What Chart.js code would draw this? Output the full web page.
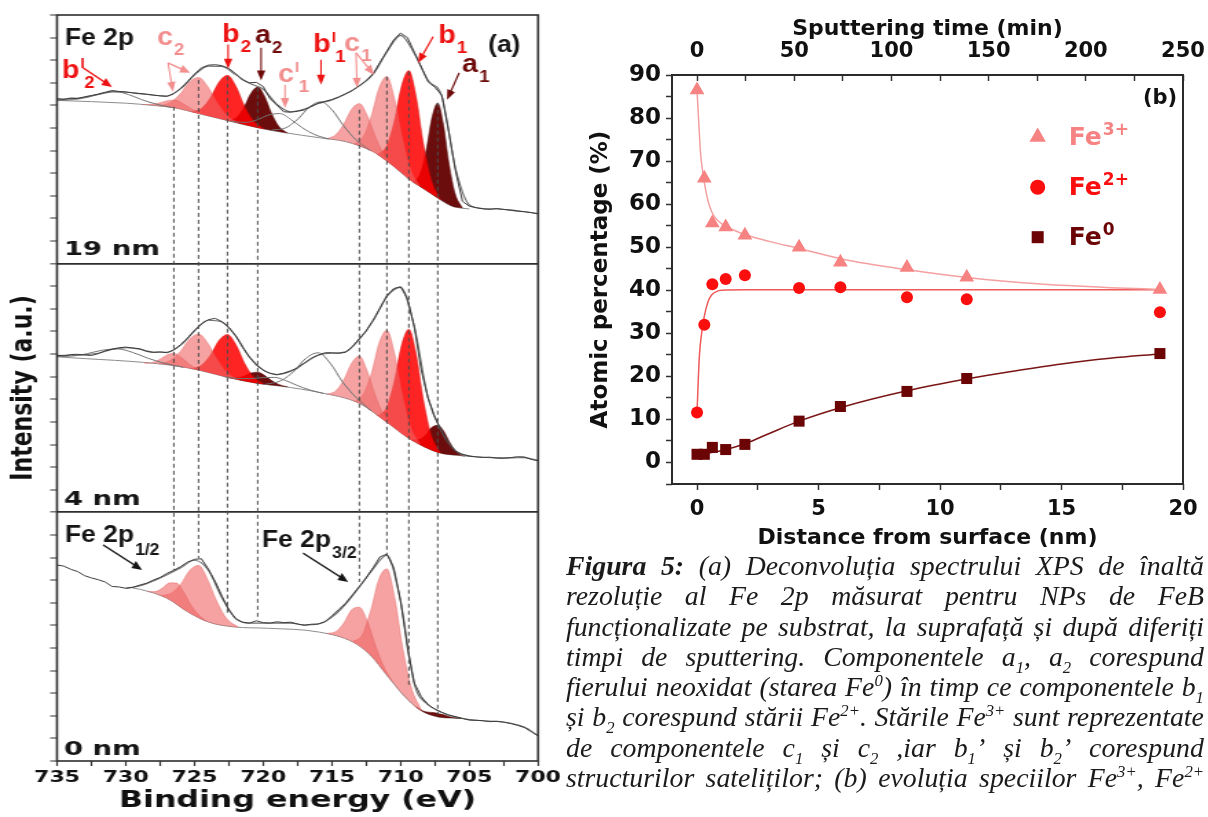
<!DOCTYPE html>
<html><head><meta charset="utf-8">
<title>Fe 2p XPS</title>
<script src="https://cdn.jsdelivr.net/npm/chart.js@4.4.1/dist/chart.umd.min.js"></script>
<style>
html,body{margin:0;padding:0;background:#fff;}
body{width:1208px;height:817px;position:relative;overflow:hidden;}
#left{position:absolute;left:0;top:0;transform:scaleX(1.375);transform-origin:0 0;}
#right{position:absolute;left:555px;top:0;}
#caption{position:absolute;left:566px;top:551px;width:638px;font-family:"Liberation Serif","Times New Roman",serif;font-style:italic;font-size:27.8px;line-height:30.3px;color:#1b1b1b;}
#caption .ln{display:flex;justify-content:space-between;white-space:nowrap;height:30.3px;}
#caption b{font-weight:bold;}
#caption sub,#caption sup{font-size:60%;line-height:0;}
</style></head><body>
<canvas id="left" width="412" height="817"></canvas>
<canvas id="right" width="653" height="560"></canvas>
<div id="caption">
<div class="ln"><span><b>Figura</b></span><span><b>5:</b></span><span>(a)</span><span>Deconvoluția</span><span>spectrului</span><span>XPS</span><span>de</span><span>înaltă</span></div>
<div class="ln"><span>rezoluție</span><span>al</span><span>Fe</span><span>2p</span><span>măsurat</span><span>pentru</span><span>NPs</span><span>de</span><span>FeB</span></div>
<div class="ln"><span>funcționalizate</span><span>pe</span><span>substrat,</span><span>la</span><span>suprafață</span><span>și</span><span>după</span><span>diferiți</span></div>
<div class="ln"><span>timpi</span><span>de</span><span>sputtering.</span><span>Componentele</span><span>a<sub>1</sub>,</span><span>a<sub>2</sub></span><span>corespund</span></div>
<div class="ln"><span>fierului</span><span>neoxidat</span><span>(starea</span><span>Fe<sup>0</sup>)</span><span>în</span><span>timp</span><span>ce</span><span>componentele</span><span>b<sub>1</sub></span></div>
<div class="ln"><span>și</span><span>b<sub>2</sub></span><span>corespund</span><span>stării</span><span>Fe<sup>2+</sup>.</span><span>Stările</span><span>Fe<sup>3+</sup></span><span>sunt</span><span>reprezentate</span></div>
<div class="ln"><span>de</span><span>componentele</span><span>c<sub>1</sub></span><span>și</span><span>c<sub>2</sub></span><span>,iar</span><span>b<sub>1</sub>’</span><span>și</span><span>b<sub>2</sub>’</span><span>corespund</span></div>
<div class="ln"><span>structurilor</span><span>sateliților;</span><span>(b)</span><span>evoluția</span><span>speciilor</span><span>Fe<sup>3+</sup>,</span><span>Fe<sup>2+</sup></span></div>
</div>
<script>
// ================= DATA : panel (a) XPS Fe 2p =================
const energyTicks = [735,730,725,720,715,710,705,700];
const rawEnergy = [735,734.5,734,733.5,733,732.5,732,731.5,731,730.5,
 730,729.5,729,728.5,728,727.5,727,726.5,726,725.5,
 725,724.5,724,723.5,723,722.5,722,721.5,721,720.5,
 720,719.5,719,718.5,718,717.5,717,716.5,716,715.5,
 715,714.5,714,713.5,713,712.5,712,711.5,711,710.5,
 710,709.5,709,708.5,708,707.5,707,706.5,706,705.5,
 705,704.5,704,703.5,703,702.5,702,701.5,701,700.5,
 700];
// measured spectra (intensity, a.u., per panel)
const raw19 = [7.30,7.26,7.33,7.30,7.38,7.44,7.50,7.58,7.66,7.62,
 7.60,7.56,7.53,7.50,7.46,7.42,7.40,7.52,7.75,8.05,
 8.38,8.66,8.78,8.80,8.76,8.64,8.40,8.12,8.00,8.02,
 7.84,7.30,7.02,6.72,6.70,6.74,6.80,6.95,7.10,7.18,
 7.26,7.38,7.52,7.66,7.88,8.10,8.40,8.90,9.40,9.90,
 10.20,10.00,9.35,8.70,8.05,7.80,7.45,5.85,4.10,2.76,
 2.54,2.48,2.42,2.40,2.44,2.40,2.36,2.32,2.30,2.26,
 2.20];
const raw4 = [6.95,6.92,6.98,6.99,6.96,6.94,7.02,7.14,7.22,7.28,
 7.31,7.27,7.24,7.12,7.07,7.10,7.06,7.18,7.42,7.70,
 8.05,8.33,8.52,8.58,8.44,8.18,7.82,7.30,6.86,6.52,
 6.28,6.15,6.08,6.16,6.26,6.38,6.60,6.82,6.96,7.06,
 7.06,7.03,7.08,7.34,7.68,8.02,8.50,9.02,9.58,9.90,
 9.98,9.45,8.20,6.30,5.05,4.20,3.58,3.05,2.70,2.56,
 2.48,2.45,2.43,2.44,2.40,2.39,2.42,2.46,2.45,2.34,
 2.28];
const raw0 = [8.67,8.62,8.48,8.38,8.20,8.10,8.02,7.92,7.72,7.70,
 7.64,7.68,7.78,7.86,8.00,8.12,8.30,8.44,8.60,8.80,
 8.92,8.95,8.50,7.95,7.30,6.68,6.30,6.14,6.10,6.20,
 6.12,6.10,6.16,6.12,6.14,6.06,6.00,6.05,6.06,6.15,
 6.42,6.70,6.98,7.35,7.72,8.10,8.55,9.03,9.15,8.55,
 7.10,5.00,3.45,2.85,2.48,2.30,2.15,2.02,1.96,1.88,
 1.81,1.80,1.78,1.74,1.76,1.72,1.66,1.58,1.48,1.30,
 1.10];
// fitted envelopes
const fitEnergy = [735,734,733,732,731,730,729,728,727,726,725,724,723,722,721,720,719,718,717,716,715,714,713,712,711,710,709,708,707,706,705,704,703,702,701,700];
const fit19 = [7.28,7.30,7.36,7.48,7.60,7.58,7.52,7.45,7.42,7.74,8.34,8.74,8.72,8.36,7.98,7.72,7.05,6.72,6.84,7.08,7.24,7.50,7.86,8.38,9.36,10.10,9.30,8.10,7.40,4.20,2.60,2.44,2.42,2.38,2.30,2.22];
const fit4 = [6.93,6.95,6.97,7.04,7.20,7.28,7.22,7.09,7.08,7.40,8.02,8.50,8.42,7.80,6.88,6.30,6.10,6.24,6.60,6.95,7.04,7.10,7.66,8.48,9.55,9.95,8.20,5.05,3.55,2.72,2.50,2.44,2.41,2.41,2.42,2.30];
const fit0 = [null,null,null,null,null,7.64,7.74,7.96,8.24,8.55,8.88,8.45,7.22,6.30,6.10,6.10,6.10,6.10,6.02,6.06,6.36,6.94,7.70,8.50,9.10,7.05,3.40,2.50,2.15,1.96,1.83,1.78,1.75,1.67,1.50,1.12];
// Shirley backgrounds [eV, a.u.]
const bg19 = [[735,7.22],[730,7.10],[728,7.00],[726.5,6.90],[724.7,6.64],[722.6,6.33],[720.4,6.01],[718.5,5.80],[715.9,5.57],[714,5.40],[713,5.21],[712,4.95],[711,4.54],[710,4.05],[709.4,3.74],[708.3,3.30],[707.3,2.90],[706.3,2.55],[705.5,2.45],[705,2.42]];
const bg4 = [[735,6.88],[726.6,6.50],[724.6,6.28],[722.6,5.97],[720.4,5.70],[718.7,5.58],[715.9,5.30],[713,4.82],[711,3.98],[709.4,3.27],[707.3,2.65],[705.9,2.52],[705,2.48]];
const bg0 = [[729.5,7.65],[729,7.60],[727,7.20],[725.5,6.60],[724,6.15],[722.1,5.93],[719.6,5.87],[715.9,5.70],[713.5,5.27],[712.2,4.69],[711,3.80],[709.8,2.92],[708.6,2.26],[707.3,1.95],[706.4,1.90],[705.5,1.88]];
// fitted components, 19 nm
const c2a_19 = [[728.8,7.04],[728.1,7.05],[727.5,7.12],[726.96,7.21],[726.4,7.24],[725.84,7.08],[725.3,6.88],[724.7,6.69],[724.0,6.54]];
const c2b_19 = [[727.58,6.97],[726.74,7.14],[726.02,7.52],[725.37,8.03],[724.7,8.24],[724.03,7.83],[723.38,7.14],[722.66,6.56],[721.82,6.22]];
const b2_19 = [[725.24,6.72],[724.47,6.88],[723.81,7.37],[723.22,8.03],[722.6,8.33],[721.98,7.85],[721.39,7.01],[720.73,6.33],[719.96,5.96]];
const a2_19 = [[722.56,6.32],[721.93,6.47],[721.39,6.92],[720.9,7.53],[720.4,7.81],[719.9,7.41],[719.41,6.68],[718.87,6.08],[718.24,5.78]];
const b2sat_19 = [[735,7.22],[733.8,7.26],[732.7,7.37],[731.8,7.53],[730.8,7.62],[729.8,7.48],[728.9,7.27],[727.8,7.06],[726.6,6.90]];
const c1sat_19 = [[722.4,6.30],[721.35,6.25],[720.45,6.36],[719.64,6.57],[718.8,6.64],[717.96,6.37],[717.15,6.01],[716.25,5.71],[715.2,5.51]];
const b1sat_19 = [[719.4,5.91],[718.35,6.01],[717.45,6.41],[716.64,6.93],[715.8,7.16],[714.96,6.78],[714.15,6.10],[713.25,5.48],[712.2,5.00]];
const c1a_19 = [[715.4,5.52],[714.7,5.71],[714.1,6.21],[713.56,6.83],[713.0,7.08],[712.44,6.57],[711.9,5.71],[711.3,4.91],[710.6,4.35]];
const c1b_19 = [[713.4,5.29],[712.7,5.63],[712.1,6.59],[711.56,7.78],[711.0,8.28],[710.44,7.28],[709.9,5.60],[709.3,4.20],[708.6,3.42]];
const b1_19 = [[711.68,4.82],[711.02,5.20],[710.45,6.33],[709.93,7.86],[709.4,8.54],[708.87,7.39],[708.36,5.38],[707.79,3.75],[707.12,2.84]];
const a1_19 = [[709.1,3.62],[708.58,3.98],[708.13,5.04],[707.72,6.45],[707.3,7.10],[706.88,6.13],[706.48,4.42],[706.03,3.09],[705.5,2.45]];
// fitted components, 4 nm
const b2sat_4 = [[735,6.90],[734,6.91],[732.8,7.02],[731.72,7.17],[730.6,7.23],[729.48,7.07],[728.4,6.82],[727.2,6.60],[725.8,6.41]];
const c2a_4 = [[728.66,6.59],[728.03,6.63],[727.49,6.78],[727.0,6.96],[726.5,7.04],[726.0,6.87],[725.51,6.62],[724.97,6.39],[724.34,6.24]];
const c2b_4 = [[727.58,6.55],[726.74,6.73],[726.02,7.12],[725.37,7.65],[724.7,7.89],[724.03,7.48],[723.38,6.78],[722.66,6.20],[721.82,5.87]];
const b2_4 = [[725.24,6.35],[724.47,6.52],[723.81,6.98],[723.22,7.60],[722.6,7.87],[721.98,7.42],[721.39,6.64],[720.73,6.00],[719.96,5.67]];
const a2_4 = [[722.56,5.96],[721.93,5.95],[721.39,6.03],[720.9,6.16],[720.4,6.20],[719.9,6.06],[719.41,5.84],[718.87,5.66],[718.24,5.55]];
const c1sat_4 = [[722.8,6.00],[721.75,5.92],[720.85,5.92],[720.04,5.96],[719.2,5.97],[718.36,5.83],[717.55,5.62],[716.65,5.42],[715.6,5.26]];
const b1sat_4 = [[719.84,5.66],[718.72,5.82],[717.76,6.24],[716.9,6.81],[716.0,7.06],[715.1,6.58],[714.24,5.78],[713.28,5.11],[712.16,4.49]];
const c1a_4 = [[715.4,5.22],[714.7,5.38],[714.1,5.90],[713.56,6.60],[713.0,6.92],[712.44,6.27],[711.9,5.26],[711.3,4.39],[710.6,3.80]];
const c1b_4 = [[713.4,4.88],[712.7,5.24],[712.1,6.19],[711.56,7.49],[711.0,8.05],[710.44,7.01],[709.9,5.24],[709.3,3.79],[708.6,3.03]];
const b1_4 = [[711.68,4.26],[711.02,4.64],[710.45,5.82],[709.93,7.39],[709.4,8.10],[708.87,7.00],[708.36,5.04],[707.79,3.45],[707.12,2.64]];
const a1_4 = [[709.22,3.21],[708.66,3.22],[708.18,3.42],[707.75,3.75],[707.3,3.85],[706.85,3.58],[706.42,3.09],[705.94,2.68],[705.38,2.47]];
// fitted components, 0 nm
const c2a_0 = [[728.46,7.49],[727.83,7.50],[727.29,7.67],[726.8,7.88],[726.3,7.87],[725.8,7.48],[725.31,6.95],[724.77,6.51],[724.14,6.19]];
const c2b_0 = [[727.58,7.32],[726.74,7.41],[726.02,7.80],[725.37,8.41],[724.7,8.66],[724.03,8.01],[723.38,7.07],[722.66,6.30],[721.82,5.93]];
const c1a_0 = [[715.4,5.64],[714.7,5.73],[714.1,6.13],[713.56,6.69],[713.0,6.80],[712.44,6.21],[711.9,5.22],[711.3,4.26],[710.6,3.51]];
const c1b_0 = [[713.52,5.28],[712.79,5.58],[712.16,6.68],[711.59,8.02],[711.0,8.50],[710.41,7.15],[709.84,4.97],[709.21,3.23],[708.48,2.24]];
const a1_0 = [[708.88,2.41],[708.39,2.22],[707.97,2.16],[707.59,2.14],[707.2,2.09],[706.81,2.04],[706.43,1.96],[706.01,1.91],[705.52,1.88]];
// guide lines (eV) and their extent on the stacked intensity axis
const guideEnergy = [726.5,724.7,722.6,720.4,713.0,711.0,709.4,707.3];
const guideTop = [28.94,30.13,30.27,29.78,28.81,30.27,30.49,29.12];
const guideBottom = [8.45,8.98,6.46,6.24,7.92,9.12,3.27,2.04];

// ================= DATA : panel (b) =================
const distanceNm = [0, 0.3, 0.63, 1.18, 1.97, 4.2, 5.9, 8.64, 11.1, 19.05];
const fe3Pct = [86.5, 66.0, 55.6, 54.7, 52.8, 50.0, 46.5, 45.3, 43.0, 40.2];
const fe2Pct = [11.6, 32.0, 41.4, 42.6, 43.5, 40.5, 40.7, 38.4, 37.9, 34.9];
const fe0Pct = [1.9, 1.9, 3.5, 3.0, 4.2, 9.6, 13.0, 16.5, 19.5, 25.3];
const fe3Fit = [[0,86.5],[0.08,78],[0.15,71.5],[0.25,67],[0.35,63.5],[0.5,59.8],[0.7,57.2],[1.0,55.5],[1.5,54.0],[2.0,52.9],[3.0,51.3],[4.2,49.7],[6.0,47.2],[8.6,44.8],[11.2,42.9],[14.0,41.5],[17.0,40.6],[19.05,40.2]];
const fe2Fit = [[0,11.6],[0.05,19],[0.1,25],[0.2,30.5],[0.3,34],[0.45,37.3],[0.6,38.9],[0.8,39.7],[1.0,40.0],[2.0,40.1],[5.0,40.1],[10.0,40.1],[15.0,40.1],[19.05,40.1]];
const fe0Fit = [[0,1.8],[0.6,2.3],[1.2,3.0],[2.0,4.4],[3.0,6.8],[4.2,9.6],[6.0,12.9],[8.6,16.6],[11.2,19.5],[13.0,21.2],[15.0,22.9],[17.0,24.2],[19.05,25.2]];
const distanceTicks = [0,5,10,15,20];
const timeTicks = [0,50,100,150,200,250];
const percentTicks = [0,10,20,30,40,50,60,70,80,90];

// ================= STYLE =================
Chart.defaults.animation = false;
Chart.defaults.font.family = 'DejaVu Sans';
Chart.defaults.color = '#111';
const S = 1.375; // horizontal stretch of panel (a)
const PINK = '#f28e8e', RED = '#ee1111', DARK = '#6e0a0a', INK = '#151515';
const FILL = {c:'rgba(240,100,100,0.60)', b:'rgba(255,0,0,0.86)', a:'rgba(100,0,0,0.95)'};
const EDGE = {c:'rgba(225,90,90,0.7)', b:'rgba(210,0,0,0.8)', a:'rgba(80,0,0,0.9)'};
const BOLD = (size, fam) => ({family: fam || 'DejaVu Sans', weight: 'bold', size});

// ================= PANEL (a) =================
const panels = [
  {off:22, raw:raw19, fit:fit19, bg:bg19, sats:[b2sat_19,c1sat_19,b1sat_19],
   comps:[[c2a_19,'c'],[c2b_19,'c'],[b2_19,'b'],[a2_19,'a'],[c1a_19,'c'],[c1b_19,'c'],[b1_19,'b'],[a1_19,'a']]},
  {off:11, raw:raw4, fit:fit4, bg:bg4, sats:[b2sat_4,c1sat_4,b1sat_4],
   comps:[[c2a_4,'c'],[c2b_4,'c'],[b2_4,'b'],[a2_4,'a'],[c1a_4,'c'],[c1b_4,'c'],[b1_4,'b'],[a1_4,'a']]},
  {off:0, raw:raw0, fit:fit0, bg:bg0, sats:[],
   comps:[[c2a_0,'c'],[c2b_0,'c'],[c1a_0,'c'],[c1b_0,'c'],[a1_0,'a']]}
];
const xy = (pairs, off) => pairs.map(p => ({x:p[0], y:p[1] + off}));
const leftSets = [];
panels.forEach(P => {
  leftSets.push({data: rawEnergy.map((e,i) => ({x:e, y:P.raw[i] + P.off})), borderColor:'#3a3a3a', borderWidth:1, tension:0, order:0});
  leftSets.push({data: fitEnergy.map((e,i) => P.fit[i] == null ? null : {x:e, y:P.fit[i] + P.off}).filter(Boolean), borderColor:'#6e6e6e', borderWidth:1.1, cubicInterpolationMode:'monotone', order:1});
  const bgIndex = leftSets.length;
  leftSets.push({data: xy(P.bg, P.off), borderColor:'#8c8c8c', borderWidth:1, cubicInterpolationMode:'monotone', order:9});
  P.sats.forEach(s => leftSets.push({data: xy(s, P.off), borderColor:'#727272', borderWidth:1, cubicInterpolationMode:'monotone', order:3}));
  P.comps.forEach(([arr,k]) => leftSets.push({data: xy(arr, P.off), borderColor: EDGE[k], borderWidth:0.6, backgroundColor: FILL[k], fill: bgIndex, cubicInterpolationMode:'monotone', order:5}));
});
guideEnergy.forEach((e,i) => leftSets.push({data:[{x:e, y:guideTop[i]},{x:e, y:guideBottom[i]}], borderColor:'#4a4a4a', borderWidth:1, borderDash:[4,3], order:2}));

const tagLabels = [
  {t:'Fe 2p', e:734.42, y:31.68, color:INK, size:24},
  {t:'(a)', e:703.63, y:31.37, color:INK, size:24},
  {t:'c', sub:'2', e:727.72, y:31.68, color:PINK},
  {t:'b', sub:'2', e:722.99, y:31.81, color:RED},
  {t:'a', sub:'2', e:720.59, y:31.77, color:DARK},
  {t:'b', sup:'I', sub:'2', e:734.64, y:30.22, color:RED},
  {t:'c', sup:'I', sub:'1', e:718.92, y:30.04, color:PINK},
  {t:'b', sup:'I', sub:'1', e:716.37, y:31.37, color:RED},
  {t:'c', sub:'1', e:714.11, y:31.42, color:PINK},
  {t:'b', sub:'1', e:707.27, y:31.77, color:RED},
  {t:'a', sub:'1', e:705.52, y:30.49, color:DARK},
  {t:'Fe 2p', sub:'1/2', e:734.42, y:9.69, color:INK, size:24, subDy:13},
  {t:'Fe 2p', sub:'3/2', e:720.08, y:9.47, color:INK, size:24, subDy:11}
];
const depthLabels = [{t:'19 nm', e:734.5, y:22.39},{t:'4 nm', e:734.5, y:11.33},{t:'0 nm', e:734.5, y:0.27}];
const arrowMarks = [
  {f:[733.1,30.66], t:[731.0,29.82], c:RED},
  {f:[726.92,30.88], t:[726.56,29.6], c:PINK},
  {f:[726.92,30.88], t:[725.32,30.44], c:PINK},
  {f:[722.55,31.70], t:[722.55,30.62], c:RED},
  {f:[720.15,31.55], t:[720.15,30.10], c:DARK},
  {f:[718.41,29.91], t:[718.41,28.89], c:PINK},
  {f:[715.79,31.02], t:[715.79,29.91], c:RED},
  {f:[713.24,31.33], t:[713.17,29.78], c:PINK},
  {f:[713.24,31.33], t:[711.93,30.35], c:PINK},
  {f:[707.63,32.04], t:[708.73,30.88], c:RED},
  {f:[705.74,30.44], t:[706.62,29.25], c:DARK},
  {f:[731.65,9.56], t:[728.81,8.45], c:INK},
  {f:[717.1,9.2], t:[713.82,7.92], c:INK}
];

function drawArrow(ctx, x1, y1, x2, y2, color) {
  const ang = Math.atan2(y2 - y1, x2 - x1), L = 10, W = 4.2;
  ctx.strokeStyle = color; ctx.fillStyle = color; ctx.lineWidth = 1.5;
  ctx.beginPath(); ctx.moveTo(x1, y1); ctx.lineTo(x2 - Math.cos(ang) * L * 0.7, y2 - Math.sin(ang) * L * 0.7); ctx.stroke();
  ctx.beginPath(); ctx.moveTo(x2, y2);
  ctx.lineTo(x2 - L * Math.cos(ang) + W * Math.sin(ang), y2 - L * Math.sin(ang) - W * Math.cos(ang));
  ctx.lineTo(x2 - L * Math.cos(ang) - W * Math.sin(ang), y2 - L * Math.sin(ang) + W * Math.cos(ang));
  ctx.closePath(); ctx.fill();
}
function drawTag(ctx, L, x, y, sx, fam, size) {
  ctx.save();
  ctx.translate(x, y); ctx.scale(sx, 1);
  ctx.fillStyle = L.color || INK; ctx.textAlign = 'left'; ctx.textBaseline = 'alphabetic';
  ctx.font = 'bold ' + size + 'px ' + fam;
  ctx.fillText(L.t, 0, 0);
  const w = ctx.measureText(L.t).width;
  let subX = w + 1;
  if (L.sup) {
    ctx.font = 'bold ' + Math.round(size * 0.55) + 'px ' + fam;
    ctx.fillText(L.sup, w + 1, -size * 0.38);
    subX = w + 2 + ctx.measureText(L.sup).width * 0.6;
  }
  if (L.sub) {
    ctx.font = 'bold ' + Math.round(size * 0.65) + 'px ' + fam;
    ctx.fillText(L.sub, subX, L.subDy != null ? L.subDy : size * 0.4);
  }
  ctx.restore();
}
const leftDeco = {
  id: 'leftDeco',
  afterDatasetsDraw(chart) {
    const {ctx, chartArea: a, scales: {x, y}} = chart;
    ctx.save();
    ctx.strokeStyle = '#2e2e2e'; ctx.lineWidth = 1.6;
    ctx.strokeRect(a.left, a.top, a.right - a.left, a.bottom - a.top);
    ctx.scale(1 / S, 1);
    arrowMarks.forEach(A => drawArrow(ctx, x.getPixelForValue(A.f[0]) * S, y.getPixelForValue(A.f[1]), x.getPixelForValue(A.t[0]) * S, y.getPixelForValue(A.t[1]), A.c));
    tagLabels.forEach(L => drawTag(ctx, L, x.getPixelForValue(L.e) * S, y.getPixelForValue(L.y), 1.1, '"Liberation Sans", Arial, sans-serif', L.size || 26));
    depthLabels.forEach(L => drawTag(ctx, L, x.getPixelForValue(L.e) * S, y.getPixelForValue(L.y), S, '"DejaVu Sans"', 20));
    ctx.restore();
  }
};
const isSep = c => c.tick && (c.tick.value === 11 || c.tick.value === 22);
new Chart(document.getElementById('left'), {
  type: 'line',
  data: {datasets: leftSets},
  options: {
    responsive: false, devicePixelRatio: 1, animation: false,
    layout: {padding: {top: 15, right: 20.7, left: 0, bottom: 0}},
    elements: {point: {radius: 0, hoverRadius: 0}, line: {fill: false}},
    plugins: {legend: {display: false}, tooltip: {enabled: false}},
    scales: {
      x: {type: 'linear', min: 700, max: 735, reverse: true,
        afterFit: s => { s.height = 56; s.paddingLeft = 0; s.paddingRight = 0; },
        ticks: {stepSize: 2.5, includeBounds: false, autoSkip: false, maxRotation: 0, padding: 2,
          callback: v => energyTicks.includes(v) ? String(v) : '', font: BOLD(16), color: '#111'},
        grid: {drawOnChartArea: false, tickLength: 5, tickColor: '#333', tickWidth: 1.2},
        border: {display: false},
        title: {display: true, text: 'Binding energy (eV)', font: BOLD(23), color: '#111', padding: {top: 0, bottom: 2}}},
      y: {type: 'linear', min: 0, max: 33,
        afterFit: s => { s.width = 41.45; },
        ticks: {stepSize: 1, display: false, autoSkip: false},
        grid: {color: c => isSep(c) ? '#2e2e2e' : 'rgba(0,0,0,0)', lineWidth: c => isSep(c) ? 1.7 : 0,
          tickColor: '#333', tickLength: 5, tickWidth: 1},
        border: {display: false},
        title: {display: true, text: 'Intensity (a.u.)', font: BOLD(22), color: '#111', padding: {top: 4, bottom: 0}}}
    }
  },
  plugins: [leftDeco]
});

// ================= PANEL (b) =================
const C3 = '#f78282', C2 = '#fb0e0e', C0 = '#6b0505';
const pts = (xs, ys) => xs.map((v, i) => ({x: v, y: ys[i]}));
const legendItems = [
  {sup: '3+', style: 'triangle', color: C3, r: 9.5, mx: 14.02, my: 75.6, tx: 15.3, ty: 73.7},
  {sup: '2+', style: 'circle', color: C2, r: 7.5, mx: 14.02, my: 63.95, tx: 15.3, ty: 62.1},
  {sup: '0', style: 'rect', color: C0, r: 8.5, mx: 14.02, my: 52.33, tx: 15.3, ty: 50.5}
];
const panelTag = {t: '(b)', x: 18.35, y: 83.26};
function marker(ctx, style, r, x, y) {
  ctx.beginPath();
  if (style === 'triangle') {
    ctx.moveTo(x, y - r); ctx.lineTo(x + r * 0.866, y + r * 0.5); ctx.lineTo(x - r * 0.866, y + r * 0.5); ctx.closePath();
  } else if (style === 'circle') {
    ctx.arc(x, y, r, 0, Math.PI * 2);
  } else {
    const h = r * 0.7071; ctx.rect(x - h, y - h, 2 * h, 2 * h);
  }
  ctx.fill();
}
const rightDeco = {
  id: 'rightDeco',
  afterDatasetsDraw(chart) {
    const {ctx, chartArea: a, scales: {x, y}} = chart;
    ctx.save();
    ctx.strokeStyle = '#2b2b2b'; ctx.lineWidth = 2;
    ctx.strokeRect(a.left, a.top, a.right - a.left, a.bottom - a.top);
    ctx.textAlign = 'left'; ctx.textBaseline = 'alphabetic';
    legendItems.forEach(it => {
      ctx.fillStyle = it.color;
      marker(ctx, it.style, it.r, x.getPixelForValue(it.mx), y.getPixelForValue(it.my));
      const tx = x.getPixelForValue(it.tx), ty = y.getPixelForValue(it.ty);
      ctx.font = 'bold 25px "DejaVu Sans"';
      ctx.fillText('Fe', tx, ty);
      const w = ctx.measureText('Fe').width;
      ctx.font = 'bold 17px "DejaVu Sans"';
      ctx.fillText(it.sup, tx + w + 1, ty - 10);
    });
    ctx.fillStyle = '#111'; ctx.font = 'bold 21px "DejaVu Sans"';
    ctx.fillText(panelTag.t, x.getPixelForValue(panelTag.x), y.getPixelForValue(panelTag.y));
    ctx.restore();
  }
};
const fitStyle = (color) => ({showLine: true, pointRadius: 0, borderColor: color, borderWidth: 1.5, cubicInterpolationMode: 'monotone', order: 2});
new Chart(document.getElementById('right'), {
  type: 'scatter',
  data: {datasets: [
    Object.assign({label: 'Fe3+ fit', data: fe3Fit.map(p => ({x: p[0], y: p[1]}))}, fitStyle('#f5a0a0')),
    Object.assign({label: 'Fe2+ fit', data: fe2Fit.map(p => ({x: p[0], y: p[1]}))}, fitStyle('#f05a5a')),
    Object.assign({label: 'Fe0 fit', data: fe0Fit.map(p => ({x: p[0], y: p[1]}))}, fitStyle('#7a1515')),
    {label: 'Fe3+', data: pts(distanceNm, fe3Pct), pointStyle: 'triangle', pointRadius: 8.5, backgroundColor: C3, borderColor: C3, borderWidth: 0, order: 0},
    {label: 'Fe2+', data: pts(distanceNm, fe2Pct), pointStyle: 'circle', pointRadius: 6, backgroundColor: C2, borderColor: C2, borderWidth: 0, order: 0},
    {label: 'Fe0', data: pts(distanceNm, fe0Pct), pointStyle: 'rect', pointRadius: 7.8, backgroundColor: C0, borderColor: C0, borderWidth: 0, order: 0}
  ]},
  options: {
    responsive: false, devicePixelRatio: 1, animation: false,
    layout: {padding: {top: 0, right: 25, left: 0, bottom: 0}},
    plugins: {legend: {display: false}, tooltip: {enabled: false}},
    scales: {
      x: {type: 'linear', position: 'bottom', min: -1.03, max: 20,
        afterFit: s => { s.height = 76; s.paddingLeft = 0; s.paddingRight = 0; },
        ticks: {stepSize: 2.5, includeBounds: false, autoSkip: false, maxRotation: 0, padding: 7,
          callback: v => distanceTicks.includes(v) ? String(v) : '', font: BOLD(21), color: '#111'},
        grid: {drawOnChartArea: false, tickLength: 6, tickColor: '#333', tickWidth: 1.5},
        border: {display: false},
        title: {display: true, text: 'Distance from surface (nm)', font: BOLD(22), color: '#111', padding: {top: 0, bottom: 9}}},
      x2: {type: 'linear', axis: 'x', position: 'top', min: -12.9, max: 250,
        afterFit: s => { s.height = 75; s.paddingLeft = 0; s.paddingRight = 0; },
        ticks: {stepSize: 25, includeBounds: false, autoSkip: false, maxRotation: 0, padding: 17,
          callback: v => timeTicks.includes(v) ? String(v) : '', font: BOLD(21), color: '#111'},
        grid: {drawOnChartArea: false, tickLength: -6, tickColor: '#333', tickWidth: 1.5},
        border: {display: false},
        title: {display: true, text: 'Sputtering time (min)', font: BOLD(22), color: '#111', padding: {top: 16, bottom: 0}}},
      y: {type: 'linear', min: -5, max: 90,
        afterFit: s => { s.width = 117; },
        ticks: {stepSize: 5, autoSkip: false, padding: 5,
          callback: v => percentTicks.includes(v) ? String(v) : '', font: BOLD(23), color: '#111'},
        grid: {drawOnChartArea: false, tickLength: 6, tickColor: '#333', tickWidth: 1.5},
        border: {display: false},
        title: {display: true, text: 'Atomic percentage (%)', font: BOLD(23), color: '#111', padding: {top: 32, bottom: 0}}}
    }
  },
  plugins: [rightDeco]
});
</script>
</body></html>
